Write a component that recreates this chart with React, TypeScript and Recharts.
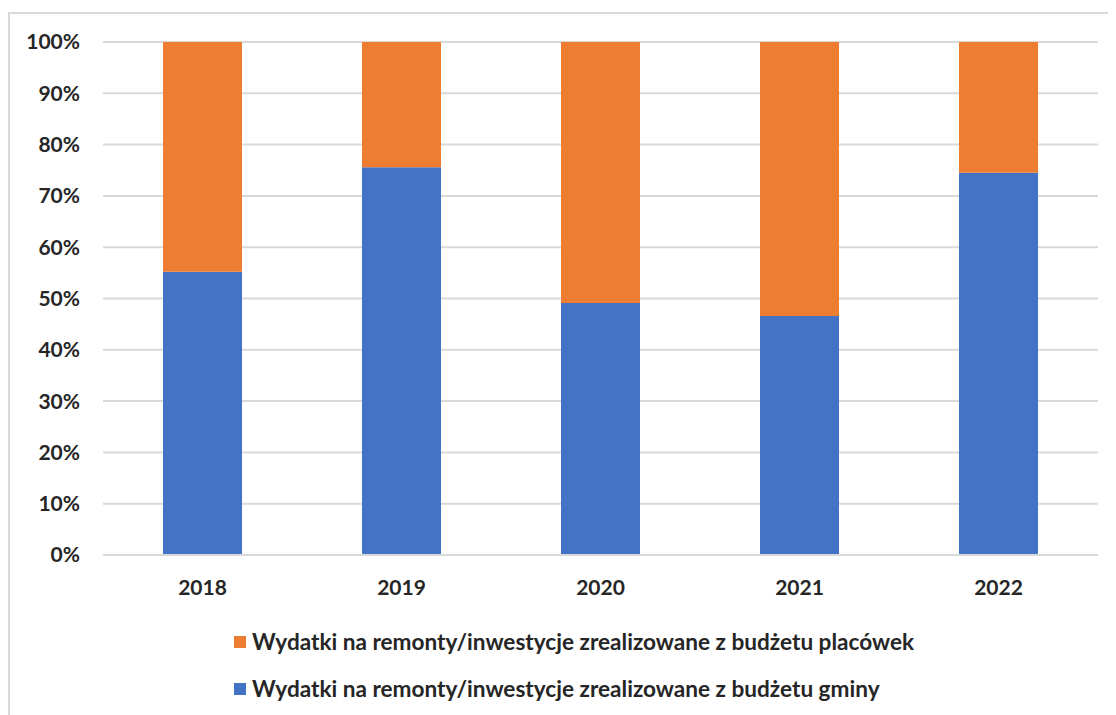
import React from 'react';
import { BarChart, Bar, XAxis, YAxis, CartesianGrid } from 'recharts';

const years = ['2018', '2019', '2020', '2021', '2022'];
const gminaShare = [55.2, 75.6, 49.1, 46.6, 74.5];
const placowkiShare = [44.8, 24.4, 50.9, 53.4, 25.5];
const yTicks = [0, 0.1, 0.2, 0.3, 0.4, 0.5, 0.6, 0.7, 0.8, 0.9, 1];

const LABEL_PLACOWKI = 'Wydatki na remonty/inwestycje zrealizowane z budżetu placówek';
const LABEL_GMINA = 'Wydatki na remonty/inwestycje zrealizowane z budżetu gminy';

const ORANGE = '#ED7D31';
const BLUE = '#4472C4';
const GRID = '#d9d9d9';
const TEXT = '#262626';
const FONT = 'Lato, "Open Sans", sans-serif';

const data = years.map((year, i) => ({
  year,
  gmina: gminaShare[i],
  placowki: placowkiShare[i],
}));

const legendItems = [
  { label: LABEL_PLACOWKI, color: ORANGE },
  { label: LABEL_GMINA, color: BLUE },
];

const tickStyle = { fill: TEXT, fontSize: 21, fontWeight: 700, fontFamily: FONT };

export default function App() {
  return (
    <div
      style={{
        position: 'relative',
        marginTop: 4,
        width: 1120,
        height: 720,
        borderLeft: `2px solid ${GRID}`,
        borderTop: `2px solid ${GRID}`,
        fontFamily: FONT,
      }}
    >
      <BarChart
        width={1110}
        height={600}
        data={data}
        stackOffset="expand"
        margin={{ top: 28, right: 22, left: 0, bottom: 19 }}
      >
        <CartesianGrid vertical={false} stroke={GRID} strokeWidth={2} />
        <XAxis
          dataKey="year"
          height={40}
          axisLine={{ stroke: GRID, strokeWidth: 2 }}
          tickLine={false}
          tickMargin={19}
          tick={tickStyle}
        />
        <YAxis
          width={93}
          domain={[0, 1]}
          ticks={yTicks}
          interval={0}
          axisLine={false}
          tickLine={false}
          tickMargin={17}
          tick={tickStyle}
          tickFormatter={(v: number) => `${Math.round(v * 100)}%`}
        />
        <Bar dataKey="gmina" stackId="a" fill={BLUE} barSize={79} isAnimationActive={false} />
        <Bar dataKey="placowki" stackId="a" fill={ORANGE} barSize={79} isAnimationActive={false} />
      </BarChart>
      {/* legend drawn as html, two stacked rows */}
      <div style={{ position: 'absolute', left: 224, top: 604 }}>
        {legendItems.map((item) => (
          <div
            key={item.label}
            style={{ display: 'flex', alignItems: 'center', height: 47, color: TEXT, fontSize: 22.6, fontWeight: 700 }}
          >
            <span style={{ display: 'inline-block', width: 12, height: 12, background: item.color, marginRight: 6 }} />
            <span>{item.label}</span>
          </div>
        ))}
      </div>
    </div>
  );
}
